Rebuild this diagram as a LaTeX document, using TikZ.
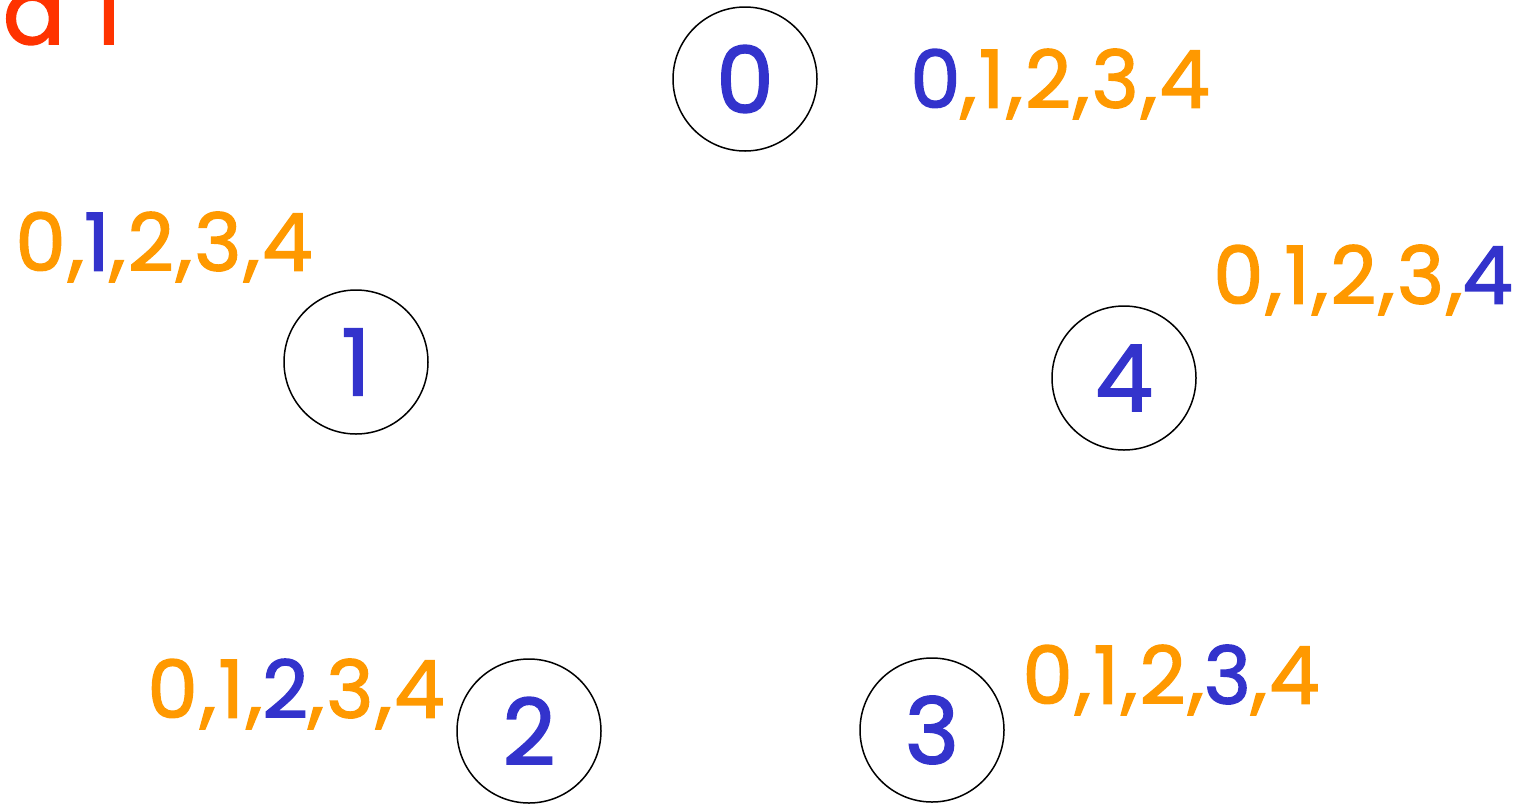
\documentclass[tikz,border=0pt]{standalone}
\usepackage{fontspec}
\setmainfont{Poppins}[LetterSpace=3,FakeBold=1.8]
\definecolor{nblue}{HTML}{3333CC}
\definecolor{norange}{HTML}{FF9900}
\definecolor{nred}{HTML}{FF3300}
\begin{document}
\begin{tikzpicture}[x=1pt,y=-1pt,
  proc/.style={circle,draw=black,line width=1.5pt,minimum size=144pt,inner sep=0pt,
    text=nblue,font=\fontsize{92}{92}\selectfont},
  vals/.style={inner sep=0pt,text=norange,font=\fontsize{80}{80}\selectfont},
  title/.style={inner sep=0pt,text=nred,font=\fontsize{92}{92}\selectfont}]
\useasboundingbox (0,0) rectangle (1525,804);
\clip (0,0) rectangle (1525,804);
\node[title,anchor=base east] (t) at (122,44) {Round 1};
\node[proc] (c0) at (745,79) {0};
\node[proc] (c1) at (356,362) {1};
\node[proc] (c2) at (529,731) {2};
\node[proc] (c3) at (932,730) {3};
\node[proc] (c4) at (1124,378) {4};
\node[vals] (l0) at (1060,84) {\textcolor{nblue}{0},1,2,3,4};
\node[vals] (l1) at (164,247) {0,\textcolor{nblue}{1},2,3,4};
\node[vals] (l2) at (296,694) {0,1,\textcolor{nblue}{2},3,4};
\node[vals] (l3) at (1171,680) {0,1,2,\textcolor{nblue}{3},4};
\node[vals] (l4) at (1363,280) {0,1,2,3,\textcolor{nblue}{4}};
\end{tikzpicture}
\end{document}
